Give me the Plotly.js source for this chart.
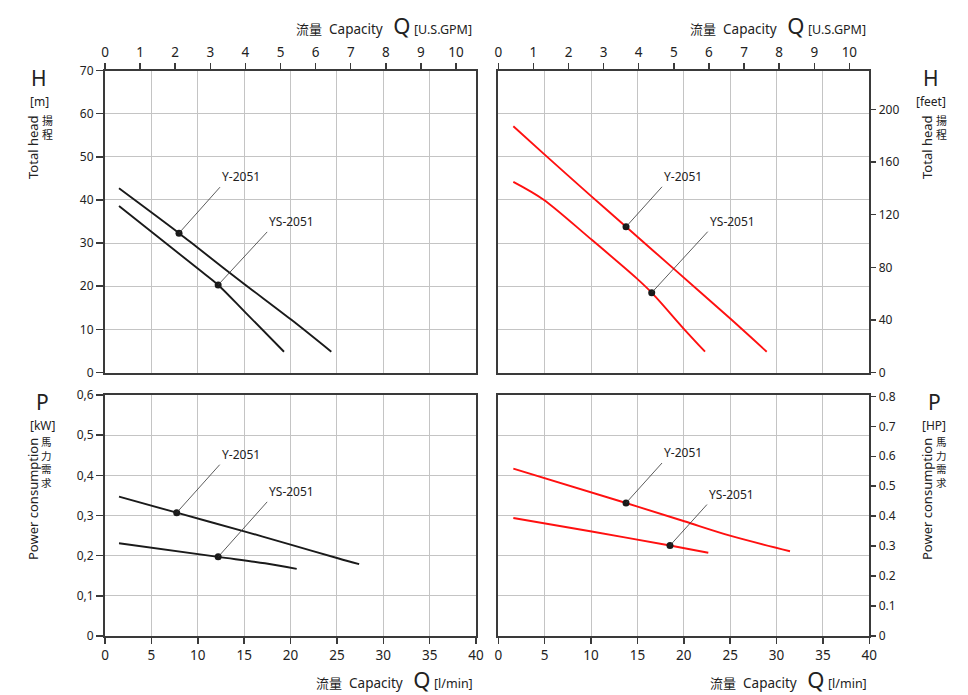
<!DOCTYPE html>
<html>
<head>
<meta charset="utf-8">
<script src="https://cdn.plot.ly/plotly-3.0.1.min.js"></script>
<style>html,body{margin:0;padding:0;background:#fff;}#chart{width:968px;height:695px;}</style>
</head>
<body>
<div id="chart"></div>
<script>
// ---------- data ----------
const modelNames = ['Y-2051', 'YS-2051'];

// Head (metres) vs capacity (l/min) — left top panel
const qY_m   = [1.51, 7.98, 10, 14.9, 20.1, 24.4];
const hY_m   = [42.7, 32.3, 28.9, 20.7, 12.2, 4.8];
const qYS_m  = [1.51, 10, 12.2, 15.1, 19.3];
const hYS_m  = [38.6, 24.1, 20.3, 14.0, 4.8];
const dutyQ_m = [7.98, 12.2];
const dutyH_m = [32.3, 20.3];

// Head (feet) vs capacity (l/min) — right top panel
const qY_ft  = [1.62, 4.85, 9.89, 13.77, 18.87, 24.97, 28.94];
const hY_ft  = [187.3, 166.6, 134.9, 110.8, 79.2, 41.2, 15.8];
const qYS_ft = [1.62, 4.85, 9.89, 14.92, 16.54, 19.95, 22.29];
const hYS_ft = [145.0, 131.6, 102.0, 71.6, 60.7, 33.6, 15.8];
const dutyQ_ft = [13.77, 16.54];
const dutyH_ft = [110.8, 60.7];

// Power (kW) — left bottom panel
const qY_kw  = [1.51, 7.73, 15.1, 20.1, 25.2, 27.4];
const pY_kw  = [0.347, 0.307, 0.260, 0.227, 0.193, 0.179];
const qYS_kw = [1.51, 12.2, 17.25, 20.67];
const pYS_kw = [0.231, 0.197, 0.181, 0.167];
const dutyQ_kw = [7.73, 12.2];
const dutyP_kw = [0.307, 0.197];

// Power (HP) — right bottom panel
const qY_hp  = [1.62, 13.77, 20.05, 24.98, 31.45];
const pY_hp  = [0.559, 0.444, 0.383, 0.335, 0.283];
const qYS_hp = [1.62, 10.07, 18.51, 22.64];
const pYS_hp = [0.394, 0.349, 0.302, 0.278];
const dutyQ_hp = [13.77, 18.51];
const dutyP_hp = [0.444, 0.302];

// tick labels
const qTicks = [0,5,10,15,20,25,30,35,40];
const gpmTicks = [0,1,2,3,4,5,6,7,8,9,10];
const mTicks = [0,10,20,30,40,50,60,70];
const ftTicks = [0,40,80,120,160,200];
const kwTicks = [0,0.1,0.2,0.3,0.4,0.5,0.6];
const kwTickText = ['0','0,1','0,2','0,3','0,4','0,5','0,6'];
const hpTicks = [0,0.1,0.2,0.3,0.4,0.5,0.6,0.7,0.8];
const hpTickText = ['0','0.1','0.2','0.3','0.4','0.5','0.6','0.7','0.8'];

// unit conversions
const LPM_PER_GPM = 3.785;
const FT_PER_M = 3.2808;
const HP_PER_KW = 1.341;

// ---------- layout helpers ----------
const W = 968, H = 695;
const px = x => x / W;
const py = y => 1 - y / H;
const FONT = 'Noto Sans, Noto Sans CJK TC, sans-serif';
const CJK = 'Noto Sans CJK TC, Noto Sans, sans-serif';
const AX = '#3a3a3a';
const GRID = '#c4c4c4';
const BLACK = '#1a1a1a';
const RED = '#ff1010';

const xL = [px(105), px(476)];
const xR = [px(498.3), px(869.3)];
const yT = [py(372.5), py(70.5)];
const yB = [py(636), py(395)];

function baseAxis(extra) {
  return Object.assign({
    showline: true, linecolor: AX, linewidth: 2, mirror: true,
    showgrid: true, gridcolor: GRID, gridwidth: 1, zeroline: false,
    ticks: '', showticklabels: false, fixedrange: true,
    tickfont: {family: FONT, size: 12, color: '#222'}
  }, extra);
}

const line = (x, y, color, xa, ya) => ({
  type: 'scatter', mode: 'lines', x: x, y: y, xaxis: xa, yaxis: ya,
  line: {color: color, width: 1.9, shape: 'spline', smoothing: 0.9},
  hoverinfo: 'skip', showlegend: false
});
const dots = (x, y, xa, ya) => ({
  type: 'scatter', mode: 'markers', x: x, y: y, xaxis: xa, yaxis: ya,
  marker: {color: BLACK, size: 7}, hoverinfo: 'skip', showlegend: false
});
const empty = (xa, ya) => ({type: 'scatter', mode: 'lines', x: [], y: [], xaxis: xa, yaxis: ya,
  hoverinfo: 'skip', showlegend: false});

const traces = [
  empty('x2', 'y2'), empty('x4', 'y4'), empty('x5', 'y'), empty('x6', 'y2'),
  line(qY_m, hY_m, BLACK, 'x', 'y'),
  line(qYS_m, hYS_m, BLACK, 'x', 'y'),
  dots(dutyQ_m, dutyH_m, 'x', 'y'),
  line(qY_ft, hY_ft, RED, 'x2', 'y5'),
  line(qYS_ft, hYS_ft, RED, 'x2', 'y5'),
  dots(dutyQ_ft, dutyH_ft, 'x2', 'y5'),
  line(qY_kw, pY_kw, BLACK, 'x3', 'y3'),
  line(qYS_kw, pYS_kw, BLACK, 'x3', 'y3'),
  dots(dutyQ_kw, dutyP_kw, 'x3', 'y3'),
  line(qY_hp, pY_hp, RED, 'x4', 'y6'),
  line(qYS_hp, pYS_hp, RED, 'x4', 'y6'),
  dots(dutyQ_hp, dutyP_hp, 'x4', 'y6')
];

const gpmAxis = (over, anchor) => ({
  overlaying: over, anchor: anchor, side: 'top', range: [0, 40 / LPM_PER_GPM],
  tickvals: gpmTicks, ticktext: gpmTicks.map(String), ticks: 'outside', ticklen: 6,
  tickwidth: 1.5, tickcolor: AX, showticklabels: true, showgrid: false, zeroline: false,
  showline: true, linecolor: AX, linewidth: 2, fixedrange: true,
  tickfont: {family: FONT, size: 13.5, color: '#222'}
});

// curve label annotations
function label(text, x, y, xr, yr, ax, ay) {
  return {
    text: text, x: x, y: y, xref: xr, yref: yr, ax: ax, ay: ay,
    showarrow: true, arrowhead: 0, arrowwidth: 0.8, arrowcolor: '#333', standoff: 0,
    xanchor: 'left', yanchor: 'bottom',
    font: {family: FONT, size: 12, color: '#222'}
  };
}
function ptext(text, x, y, size, extra) {
  return Object.assign({
    text: text, x: px(x), y: py(y), xref: 'paper', yref: 'paper', showarrow: false, borderpad: 0,
    xanchor: 'center', yanchor: 'middle', font: {family: FONT, size: size, color: '#222'}
  }, extra || {});
}
const sp = n => '&nbsp;'.repeat(n);
const capTitle = unit => '<span style="font-family:' + CJK + ';font-size:13px">流量</span>' + sp(2) +
  'Capacity' + sp(3) + '<span style="font-size:22px">Q</span>' + sp(1) + '<span style="font-size:12.5px">' + unit + '</span>';

const annotations = [
  label(modelNames[0], dutyQ_m[0], dutyH_m[0], 'x', 'y', 41, -46),
  label(modelNames[1], dutyQ_m[1], dutyH_m[1], 'x', 'y', 49, -53),
  label(modelNames[0], dutyQ_ft[0], dutyH_ft[0], 'x2', 'y5', 36, -40),
  label(modelNames[1], dutyQ_ft[1], dutyH_ft[1], 'x2', 'y5', 56, -61),
  label(modelNames[0], dutyQ_kw[0], dutyP_kw[0], 'x3', 'y3', 43, -48),
  label(modelNames[1], dutyQ_kw[1], dutyP_kw[1], 'x3', 'y3', 49, -55),
  label(modelNames[0], dutyQ_hp[0], dutyP_hp[0], 'x4', 'y6', 36, -40),
  label(modelNames[1], dutyQ_hp[1], dutyP_hp[1], 'x4', 'y6', 37, -41),

  // capacity titles
  ptext(capTitle('[U.S.GPM]'), 473, 25, 13.5, {xanchor: 'right'}),
  ptext(capTitle('[U.S.GPM]'), 867, 25, 13.5, {xanchor: 'right'}),
  ptext(capTitle('[l/min]'), 474, 679, 13.5, {xanchor: 'right'}),
  ptext(capTitle('[l/min]'), 868, 679, 13.5, {xanchor: 'right'}),

  // left top
  ptext('H', 39, 77.8, 21),
  ptext('[m]', 39, 101, 12),
  ptext('Total head', 33, 147, 13, {textangle: -90}),
  ptext('揚<br>程', 47.5, 127, 11, {font: {family: CJK, size: 11, color: '#222'}}),
  // right top
  ptext('H', 931, 77.8, 21),
  ptext('[feet]', 931, 101, 12),
  ptext('Total head', 927, 147, 13, {textangle: -90}),
  ptext('揚<br>程', 941.5, 127, 11, {font: {family: CJK, size: 11, color: '#222'}}),
  // left bottom
  ptext('P', 42.5, 401.8, 21),
  ptext('[kW]', 42.5, 425, 12),
  ptext('Power consumption', 33, 499, 13, {textangle: -90}),
  ptext('馬<br>力<br>需<br>求', 46.5, 462, 11, {font: {family: CJK, size: 10.5, color: '#222'}}),
  // right bottom
  ptext('P', 934, 401.8, 21),
  ptext('[HP]', 933.5, 425, 12),
  ptext('Power consumption', 927, 499, 13, {textangle: -90}),
  ptext('馬<br>力<br>需<br>求', 941.5, 462, 11, {font: {family: CJK, size: 10.5, color: '#222'}})
];

const layout = {
  width: W, height: H,
  margin: {l: 0, r: 0, t: 0, b: 0, pad: 0},
  paper_bgcolor: '#fff', plot_bgcolor: '#fff',
  showlegend: false,
  font: {family: FONT, color: '#222'},
  // top-left: head in metres
  xaxis: baseAxis({domain: xL, anchor: 'y', range: [0, 40], tickvals: qTicks}),
  yaxis: baseAxis({domain: yT, anchor: 'x', range: [0, 70], tickvals: mTicks,
    ticks: 'outside', ticklen: 7, tickwidth: 1.5, tickcolor: AX, showticklabels: true}),
  xaxis5: gpmAxis('x', 'y'),
  // top-right: head in feet
  xaxis2: baseAxis({domain: xR, anchor: 'y2', range: [0, 40], tickvals: qTicks}),
  yaxis2: baseAxis({domain: yT, anchor: 'x2', range: [0, 70], tickvals: mTicks}),
  xaxis6: gpmAxis('x2', 'y2'),
  yaxis5: {overlaying: 'y2', anchor: 'x2', side: 'right', range: [0, 70 * FT_PER_M],
    tickvals: ftTicks, ticktext: ftTicks.map(String), ticks: 'outside', ticklen: 6, tickwidth: 1.5,
    tickcolor: AX, showgrid: false, zeroline: false, showline: false, fixedrange: true,
    tickfont: {family: FONT, size: 12, color: '#222'}},
  // bottom-left: power kW
  xaxis3: baseAxis({domain: xL, anchor: 'y3', range: [0, 40], tickvals: qTicks,
    ticks: 'outside', ticklen: 6, tickwidth: 1.5, tickcolor: AX, showticklabels: true,
    tickfont: {family: FONT, size: 13.5, color: '#222'}}),
  yaxis3: baseAxis({domain: yB, anchor: 'x3', range: [0, 0.6], tickvals: kwTicks, ticktext: kwTickText,
    ticks: 'outside', ticklen: 7, tickwidth: 1.5, tickcolor: AX, showticklabels: true}),
  // bottom-right: power HP
  xaxis4: baseAxis({domain: xR, anchor: 'y4', range: [0, 40], tickvals: qTicks,
    ticks: 'outside', ticklen: 6, tickwidth: 1.5, tickcolor: AX, showticklabels: true,
    tickfont: {family: FONT, size: 13.5, color: '#222'}}),
  yaxis4: baseAxis({domain: yB, anchor: 'x4', range: [0, 0.6], tickvals: kwTicks}),
  yaxis6: {overlaying: 'y4', anchor: 'x4', side: 'right', range: [0, 0.6 * HP_PER_KW],
    tickvals: hpTicks, ticktext: hpTickText, ticks: 'outside', ticklen: 6, tickwidth: 1.5,
    tickcolor: AX, showgrid: false, zeroline: false, showline: false, fixedrange: true,
    tickfont: {family: FONT, size: 12, color: '#222'}},
  annotations: annotations
};

Plotly.newPlot('chart', traces, layout, {staticPlot: true, displayModeBar: false});
</script>
</body>
</html>
